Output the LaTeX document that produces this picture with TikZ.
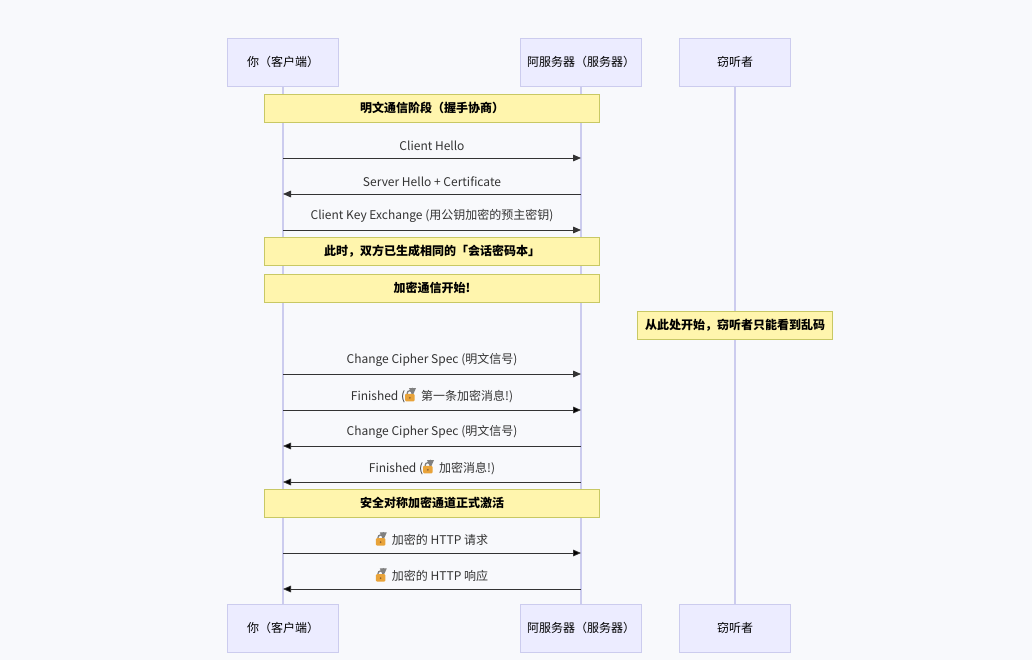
\documentclass[tikz,border=0pt]{standalone}
\usepackage{fontspec}
\setmainfont{Noto Sans CJK SC}
\usetikzlibrary{positioning}
\usetikzlibrary{arrows.meta}
\definecolor{bgcol}{HTML}{F8F9FC}
\definecolor{actfill}{HTML}{ECECFF}
\definecolor{actline}{HTML}{CCCCEE}
\definecolor{notefill}{HTML}{FFF5AD}
\definecolor{noteline}{HTML}{C8C864}
\definecolor{msgcol}{HTML}{333333}
\definecolor{lockcol}{HTML}{E8A33A}
\newcommand{\lockicon}{\tikz[baseline=0.8pt,x=1pt,y=1pt,line cap=round]{%
  \draw[gray,line width=1pt] (1.8,4) -- (1.8,6) arc[start angle=180,end angle=0,radius=2pt] -- (5.8,4);
  \fill[lockcol,rounded corners=0.7pt] (0.3,0) rectangle (7.3,5.6);
  \fill[brown!70!black] (3.8,2.6) circle[radius=0.7pt];}}
\tikzset{
  actor/.style={draw=actline, fill=actfill, minimum height=36pt, font=\small},
  note/.style={draw=noteline, fill=notefill, minimum height=21pt, font=\small\bfseries},
  msg/.style={draw=msgcol, line width=0.6pt, -{Triangle[length=6pt,width=5pt]}},
  msglabel/.style={above=2pt, font=\small, text=msgcol}
}
\begin{document}
\begin{tikzpicture}[x=0.75pt,y=-0.75pt]
 % background and size
 \fill[bgcol] (0,0) rectangle (1032,660);
 \useasboundingbox (0,0) rectangle (1032,660);

 % lifelines
 \foreach \name/\xx in {c/283, s/581, e/735} {
   \coordinate (\name top) at (\xx,86);
   \coordinate (\name bot) at (\xx,604);
   \draw[actline, line width=0.8pt] (\name top) -- (\name bot);
 }

 % actors
 \foreach \yy/\pos in {62/t, 628/b} {
   \node[actor, minimum width=83pt] (client\pos) at (283,\yy) {你（客户端）};
   \node[actor, minimum width=91pt] (server\pos) at (581,\yy) {阿服务器（服务器）};
   \node[actor, minimum width=83pt] (eve\pos) at (735,\yy) {窃听者};
 }

 % notes
 \node[note, minimum width=251pt] (n1) at (432,108) {明文通信阶段（握手协商）};
 \node[note, minimum width=251pt] (n2) at (432,251) {此时，双方已生成相同的「会话密码本」};
 \node[note, minimum width=251pt] (n3) at (432,288) {加密通信开始!};
 \node[note, minimum width=146pt] (n4) at (735,325) {从此处开始，窃听者只能看到乱码};
 \node[note, minimum width=251pt] (n5) at (432,503) {安全对称加密通道正式激活};

 % messages
 \foreach \yy/\dir/\txt in {
   158/r/Client Hello,
   194/l/Server Hello + Certificate,
   230/r/Client Key Exchange (用公钥加密的预主密钥),
   374/r/Change Cipher Spec (明文信号),
   410/r/Finished (\lockicon\hspace{4pt}第一条加密消息!),
   446/l/Change Cipher Spec (明文信号),
   482/l/Finished (\lockicon\hspace{4pt}加密消息!),
   553/r/\lockicon\hspace{4pt}加密的 HTTP 请求,
   589/l/\lockicon\hspace{4pt}加密的 HTTP 响应} {
   \coordinate (a) at (283,\yy);
   \coordinate (b) at (581,\yy);
   \if\dir r
     \draw[msg] (a) -- node[msglabel] {\txt} (b);
   \else
     \draw[msg] (b) -- node[msglabel] {\txt} (a);
   \fi
 }
\end{tikzpicture}
\end{document}
